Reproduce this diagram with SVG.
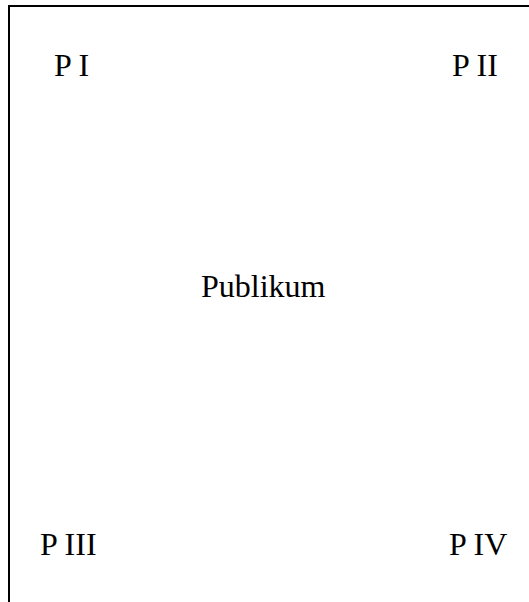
<svg xmlns="http://www.w3.org/2000/svg" width="529" height="602" viewBox="0 0 529 602">
<style>
.t{font-family:"Liberation Serif","Times New Roman",serif;font-size:32px;fill:#000}
.b{stroke:#000;stroke-width:2;fill:none}
</style>
<rect width="529" height="602" fill="#fff"/>
<g id="frame">
<path class="b" d="M9,602 V6 H529"/>
</g>
<g id="p1"><text class="t" x="54" y="76">P I</text></g>
<g id="p2"><text class="t" x="452" y="76">P II</text></g>
<g id="publikum"><text class="t" x="201" y="297">Publikum</text></g>
<g id="p3"><text class="t" x="40" y="555">P III</text></g>
<g id="p4"><text class="t" x="449" y="555">P IV</text></g>
</svg>
